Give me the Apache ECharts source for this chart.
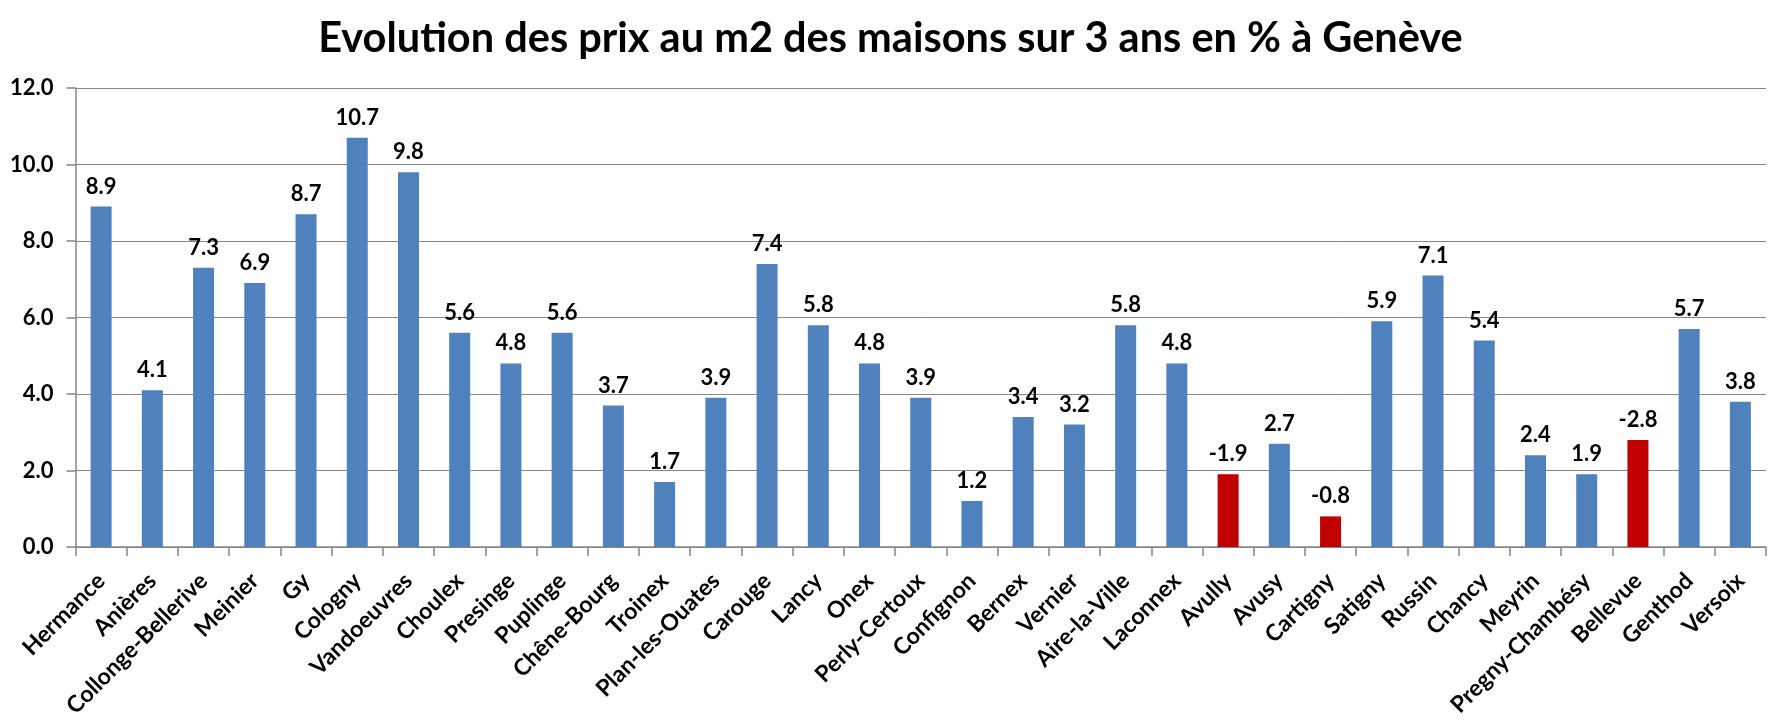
<!DOCTYPE html>
<html>
<head>
<meta charset="utf-8">
<script src="https://cdn.jsdelivr.net/npm/echarts@6/dist/echarts.min.js"></script>
<style>
html,body{margin:0;padding:0;background:#fff;}
#chart{width:1781px;height:728px;}
</style>
</head>
<body>
<div id="chart"></div>
<script>
const communes = ["Hermance","Anières","Collonge-Bellerive","Meinier","Gy","Cologny","Vandoeuvres","Choulex","Presinge","Puplinge","Chêne-Bourg","Troinex","Plan-les-Ouates","Carouge","Lancy","Onex","Perly-Certoux","Confignon","Bernex","Vernier","Aire-la-Ville","Laconnex","Avully","Avusy","Cartigny","Satigny","Russin","Chancy","Meyrin","Pregny-Chambésy","Bellevue","Genthod","Versoix"];
const evolution = [8.9,4.1,7.3,6.9,8.7,10.7,9.8,5.6,4.8,5.6,3.7,1.7,3.9,7.4,5.8,4.8,3.9,1.2,3.4,3.2,5.8,4.8,-1.9,2.7,-0.8,5.9,7.1,5.4,2.4,1.9,-2.8,5.7,3.8];
const yTicks = [0,2,4,6,8,10,12];

const FONT = 'Lato, "Open Sans", sans-serif';
const chart = echarts.init(document.getElementById('chart'), null, {renderer:'canvas'});
const data = evolution.map(v => ({
  value: Math.abs(v),
  signed: v,
  itemStyle: {color: v < 0 ? '#C00000' : '#4F81BD'}
}));
chart.setOption({
  animation:false,
  backgroundColor:'#fff',
  title:{
    text:'Evolution des prix au m2 des maisons sur 3 ans en % à Genève',
    left:'center', top:13,
    textStyle:{fontFamily:FONT, fontWeight:'bold', fontSize:41.5, color:'#000'}
  },
  grid:{left:75.5, right:15, top:88, bottom:181},
  xAxis:{
    type:'category',
    data:communes,
    axisLine:{lineStyle:{color:'#868686', width:1.5}},
    axisTick:{show:true, length:9, lineStyle:{color:'#868686', width:1.5}},
    axisLabel:{rotate:45, interval:0, margin:30, color:'#000',
      fontFamily:FONT, fontWeight:'bold', fontSize:23}
  },
  yAxis:{
    type:'value', min:yTicks[0], max:yTicks[yTicks.length-1], interval:2,
    axisLine:{show:true, lineStyle:{color:'#868686', width:1.5}},
    axisTick:{show:true, length:9, inside:false, lineStyle:{color:'#868686', width:1.5}},
    splitLine:{lineStyle:{color:'#868686', width:1}},
    axisLabel:{margin:22, color:'#000', fontFamily:FONT, fontWeight:'bold', fontSize:22,
      formatter:v => v.toFixed(1)}
  },
  series:[{
    type:'bar',
    data:data,
    barWidth:21,
    label:{show:true, position:'top', distance:9, color:'#000',
      fontFamily:FONT, fontWeight:'bold', fontSize:22,
      formatter:p => p.data.signed.toFixed(1)}
  }]
});
</script>
</body>
</html>
